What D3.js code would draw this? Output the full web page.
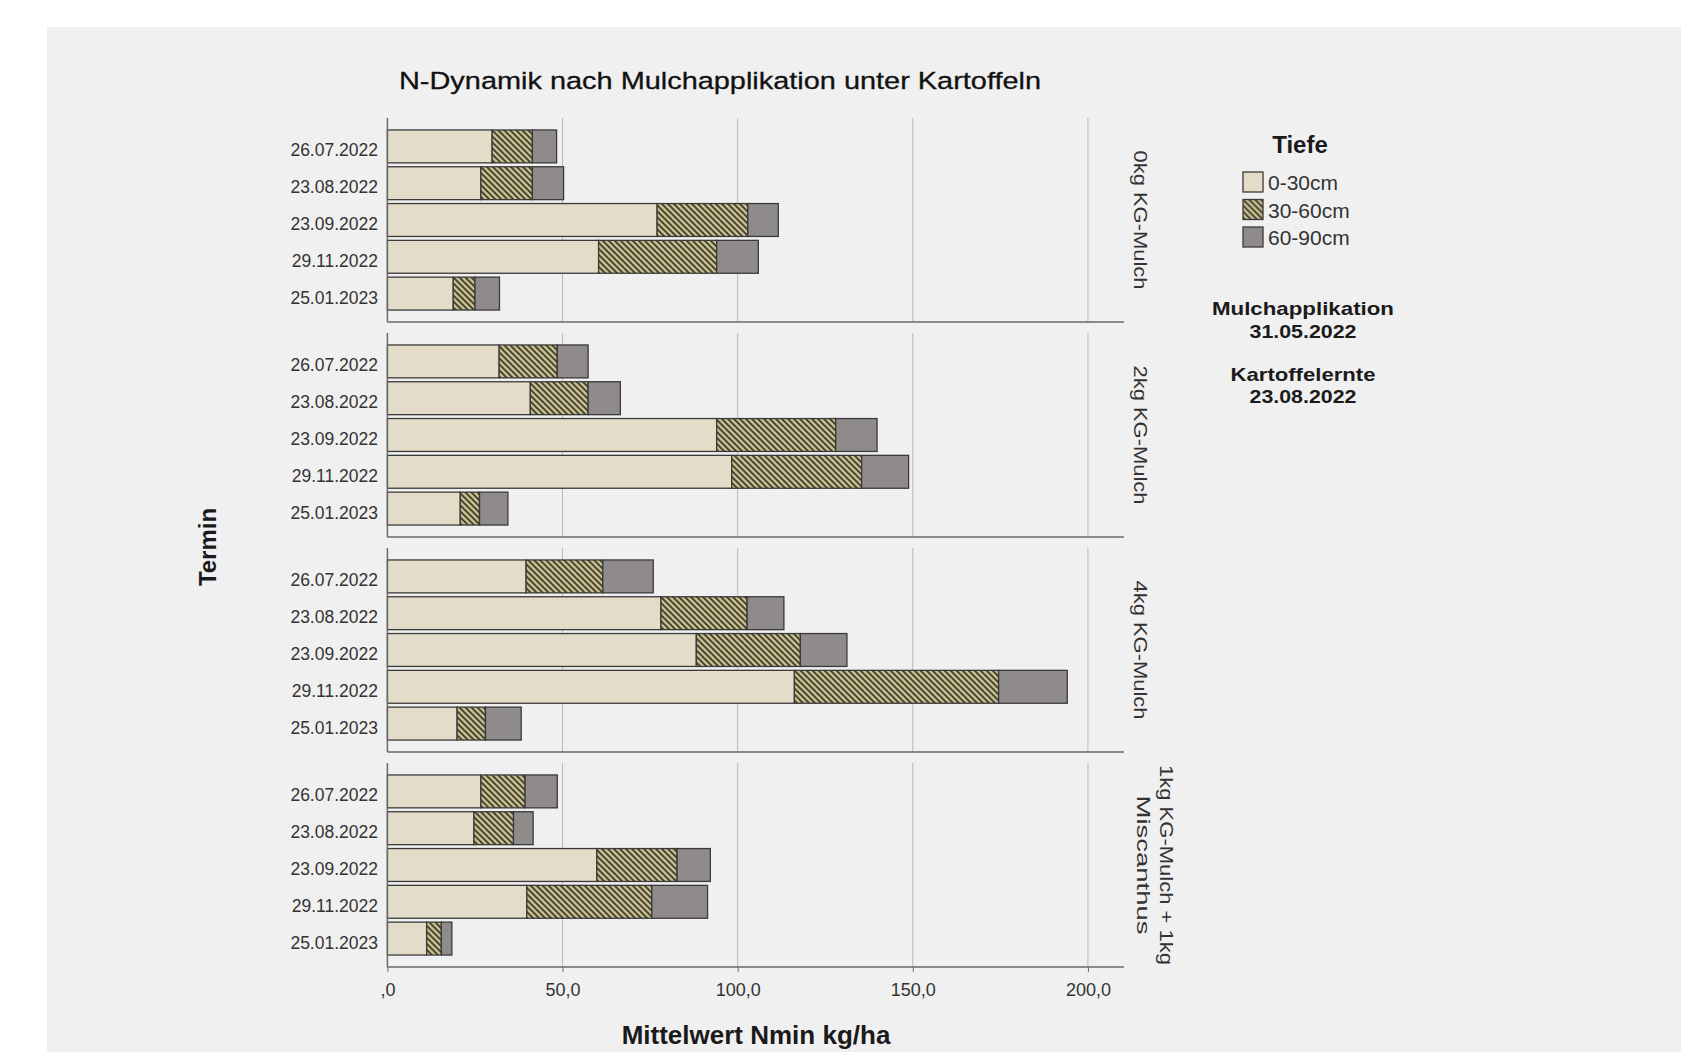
<!DOCTYPE html>
<html>
<head>
<meta charset="utf-8">
<script src="https://cdn.jsdelivr.net/npm/d3@7"></script>
<style>
    body { margin: 0; background: #ffffff; }
    text { font-family: Arial, "Liberation Sans", sans-serif; fill: #1a1a1a; }
</style>
</head>
<body>
<svg id="chart" width="1706" height="1052"></svg>
<script>
// Termine (y categories per panel)
const termine = ['26.07.2022', '23.08.2022', '23.09.2022', '29.11.2022', '25.01.2023'];
// Tiefen (stack order)
const tiefen = ['0-30cm', '30-60cm', '60-90cm'];
// Panels
const gruppen = ['0kg KG-Mulch', '2kg KG-Mulch', '4kg KG-Mulch', '1kg KG-Mulch + 1kg Miscanthus'];
const gruppenZeilen = [['0kg KG-Mulch'], ['2kg KG-Mulch'], ['4kg KG-Mulch'], ['1kg KG-Mulch + 1kg', 'Miscanthus']];

// Mittelwert Nmin kg/ha, per Termin: [0-30cm, 30-60cm, 60-90cm]
const mulch0kg = [[29.9, 11.5, 6.9], [26.7, 14.7, 8.9], [77.0, 25.9, 8.7], [60.3, 33.7, 11.9], [18.8, 6.2, 7.0]];
const mulch2kg = [[31.9, 16.6, 8.8], [40.8, 16.5, 9.2], [94.0, 34.0, 11.8], [98.3, 37.1, 13.4], [20.8, 5.5, 8.1]];
const mulch4kg = [[39.6, 21.9, 14.4], [78.1, 24.6, 10.5], [88.2, 29.7, 13.3], [116.2, 58.3, 19.6], [19.9, 8.1, 10.2]];
const mulch1kgMisc = [[26.7, 12.6, 9.2], [24.7, 11.3, 5.6], [59.8, 22.9, 9.5], [39.8, 35.7, 15.9], [11.2, 4.2, 3.0]];
const werte = [mulch0kg, mulch2kg, mulch4kg, mulch1kgMisc];

const xTicks = [0, 50, 100, 150, 200];

const colors = ['#e2dcc8', 'url(#hatch)', '#8f8b8b'];

const svg = d3.select('#chart');

// hatch pattern for 30-60cm
const defs = svg.append('defs');
const pat = defs.append('pattern')
    .attr('id', 'hatch')
    .attr('patternUnits', 'userSpaceOnUse')
    .attr('width', 6)
    .attr('height', 6);
pat.append('rect').attr('width', 6).attr('height', 6).attr('fill', '#c4be8e');
pat.append('path')
    .attr('d', 'M0,0 L6,6 M-1,5 L1,7 M5,-1 L7,1')
    .attr('stroke', '#3f3c2b')
    .attr('stroke-width', 1.7);

// grey background panel
svg.append('rect')
    .attr('x', 47).attr('y', 27)
    .attr('width', 1634).attr('height', 1025)
    .attr('fill', '#f0f0f0');

// title
svg.append('text')
    .attr('x', 720).attr('y', 89)
    .attr('text-anchor', 'middle')
    .attr('textLength', 642)
    .attr('lengthAdjust', 'spacingAndGlyphs')
    .style('font-size', '24.5px')
    .style('fill', '#111')
    .style('stroke', '#111')
    .style('stroke-width', 0.3)
    .text('N-Dynamik nach Mulchapplikation unter Kartoffeln');

const x = d3.scaleLinear()
    .domain([0, 210.3])
    .range([387.4, 1124]);

const panelTop = 118,
    panelStep = 215,
    panelH = 204;

const stack = d3.stack().keys([0, 1, 2]);

werte.forEach((rows, i) => {
    const g = svg.append('g')
        .attr('transform', 'translate(0,' + (panelTop + i * panelStep) + ')');

    const y = d3.scaleBand()
        .domain(termine)
        .range([0, panelH])
        .paddingInner(0.106)
        .paddingOuter(0.325);

    // gridlines
    g.selectAll('line.grid')
        .data(xTicks.slice(1))
        .enter().append('line')
        .attr('class', 'grid')
        .attr('x1', d => x(d)).attr('x2', d => x(d))
        .attr('y1', 0).attr('y2', panelH)
        .attr('stroke', '#b9b9b9')
        .attr('stroke-width', 1);

    const table = rows.map((r, j) => ({termin: termine[j], 0: r[0], 1: r[1], 2: r[2]}));
    const series = stack(table);

    g.selectAll('g.layer')
        .data(series)
        .enter().append('g')
        .attr('class', 'layer')
        .attr('fill', (d, k) => colors[k])
        .selectAll('rect')
        .data(d => d)
        .enter().append('rect')
        .attr('x', d => x(d[0]))
        .attr('width', d => x(d[1]) - x(d[0]))
        .attr('y', d => y(d.data.termin))
        .attr('height', y.bandwidth())
        .attr('stroke', '#3a3a3a')
        .attr('stroke-width', 1.3);

    // left axis line
    g.append('line')
        .attr('x1', x(0)).attr('x2', x(0))
        .attr('y1', 0).attr('y2', panelH)
        .attr('stroke', '#6a6a6a')
        .attr('stroke-width', 1.5);

    // bottom line / separator
    g.append('line')
        .attr('x1', x(0)).attr('x2', x.range()[1])
        .attr('y1', panelH).attr('y2', panelH)
        .attr('stroke', '#6a6a6a')
        .attr('stroke-width', 1.5);

    // date labels
    g.selectAll('text.termin')
        .data(termine)
        .enter().append('text')
        .attr('class', 'termin')
        .attr('x', 378)
        .attr('y', d => y(d) + y.bandwidth() / 2 + 10)
        .attr('text-anchor', 'end')
        .style('font-size', '17.5px')
        .style('fill', '#333')
        .text(d => d);

    // facet label (rotated)
    const zeilen = gruppenZeilen[i];
    const lab = g.append('g')
        .attr('transform', 'translate(0,' + (panelH / 2) + ')');
    zeilen.forEach((z, k) => {
        const bx = zeilen.length === 1 ? 1134 : (k === 0 ? 1160 : 1137);
        lab.append('text')
            .attr('transform', 'translate(' + bx + ',0) rotate(90)')
            .attr('text-anchor', 'middle')
            .attr('textLength', z.length > 12 ? (z.length > 14 ? 200 : 110) : 139)
            .attr('lengthAdjust', 'spacingAndGlyphs')
            .style('font-size', '18.5px')
            .style('fill', '#333')
            .text(z);
    });

    // x axis on last panel
    if (i === werte.length - 1) {
        const axis = g.append('g')
            .attr('transform', 'translate(0,' + panelH + ')')
            .call(d3.axisBottom(x)
                .tickValues(xTicks)
                .tickSize(5)
                .tickFormat(d => d === 0 ? ',0' : d.toFixed(1).replace('.', ',')));
        axis.select('.domain').remove();
        axis.selectAll('.tick line').attr('stroke', '#6a6a6a');
        axis.selectAll('.tick text')
            .attr('y', 16)
            .style('font-family', 'Arial, "Liberation Sans", sans-serif')
            .style('font-size', '18px')
            .style('fill', '#333');
    }
});

// axis titles
svg.append('text')
    .attr('x', 756).attr('y', 1044)
    .attr('text-anchor', 'middle')
    .style('font-size', '26px')
    .style('font-weight', 'bold')
    .text('Mittelwert Nmin kg/ha');

svg.append('text')
    .attr('transform', 'translate(216,547) rotate(-90)')
    .attr('text-anchor', 'middle')
    .style('font-size', '24px')
    .style('font-weight', 'bold')
    .text('Termin');

// legend
const legend = svg.append('g');
legend.append('text')
    .attr('x', 1300).attr('y', 153)
    .attr('text-anchor', 'middle')
    .style('font-size', '24px')
    .style('font-weight', 'bold')
    .text('Tiefe');

const item = legend.selectAll('g.item')
    .data(tiefen)
    .enter().append('g')
    .attr('class', 'item')
    .attr('transform', (d, k) => 'translate(1243,' + (172 + k * 27.5) + ')');
item.append('rect')
    .attr('width', 20).attr('height', 20)
    .attr('fill', (d, k) => colors[k])
    .attr('stroke', '#3a3a3a')
    .attr('stroke-width', 1.3);
item.append('text')
    .attr('x', 25).attr('y', 18)
    .style('font-size', '21px')
    .style('fill', '#333')
    .text(d => d);

// notes
const notes = [
    ['Mulchapplikation', 315, 182],
    ['31.05.2022', 338, 107],
    ['Kartoffelernte', 381, 145],
    ['23.08.2022', 403, 107]
];
svg.selectAll('text.note')
    .data(notes)
    .enter().append('text')
    .attr('class', 'note')
    .attr('x', 1303)
    .attr('y', d => d[1])
    .attr('text-anchor', 'middle')
    .attr('textLength', d => d[2])
    .attr('lengthAdjust', 'spacingAndGlyphs')
    .style('font-size', '19px')
    .style('font-weight', 'bold')
    .text(d => d[0]);
</script>
</body>
</html>
